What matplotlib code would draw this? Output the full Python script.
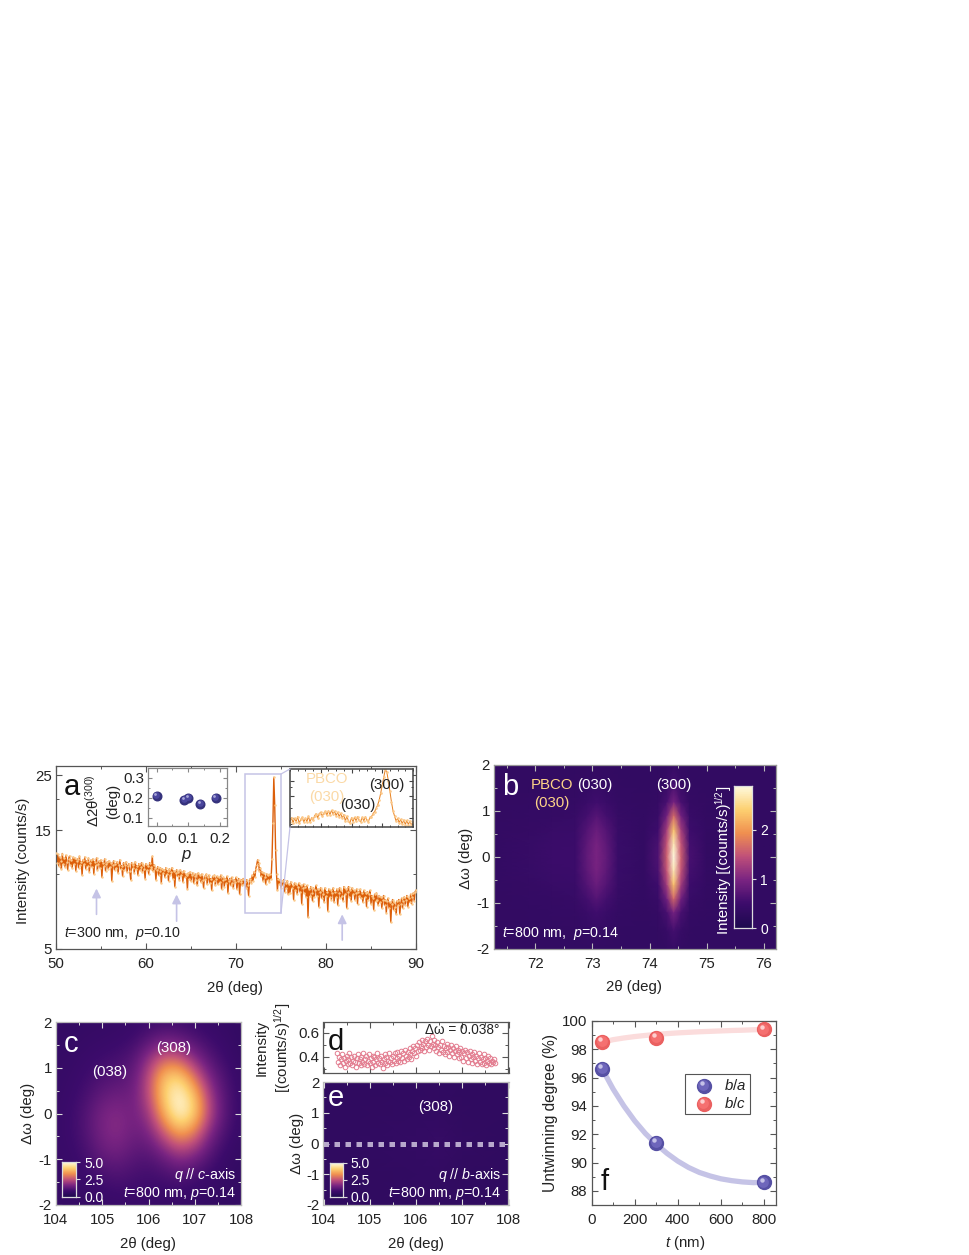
import numpy as np
import matplotlib
matplotlib.use("Agg")
import matplotlib.pyplot as plt
from matplotlib.colors import LinearSegmentedColormap
from matplotlib.patches import Rectangle
from matplotlib.lines import Line2D
from matplotlib.ticker import FixedLocator, FixedFormatter, NullFormatter, MultipleLocator
from matplotlib.transforms import ScaledTranslation

plt.rcParams['font.family'] = ['Liberation Sans', 'DejaVu Sans']
plt.rcParams['mathtext.fontset'] = 'custom'
plt.rcParams['mathtext.rm'] = 'Liberation Sans'
plt.rcParams['mathtext.it'] = 'Liberation Sans:italic'
plt.rcParams['font.size'] = 10.8
plt.rcParams['axes.unicode_minus'] = False

W, H = 970, 1255

# panel a, spectrum every 0.1 deg from 50 to 90, one row per 2 deg
spec_a = [
    12.2, 11.1, 12.0, 10.8, 11.7, 11.3, 10.5, 12.1, 11.0, 11.6, 10.7, 11.9, 11.2, 10.4, 11.5, 11.8, 10.9, 11.4, 10.6, 11.7,
    11.0, 11.6, 10.3, 11.3, 11.5, 10.6, 11.8, 10.9, 11.2, 9.9, 11.4, 11.0, 11.7, 10.5, 11.3, 10.8, 11.6, 10.2, 11.1, 11.4,
    10.7, 11.5, 10.0, 11.2, 10.9, 11.6, 10.4, 11.0, 11.3, 10.6, 11.4, 9.7, 11.1, 10.8, 11.5, 10.3, 11.0, 11.2, 10.5, 11.3,
    10.7, 11.1, 9.4, 10.9, 11.3, 10.4, 11.0, 10.6, 11.2, 10.1, 10.9, 11.4, 10.5, 10.8, 9.8, 11.1, 10.4, 10.9, 11.2, 10.2,
    10.8, 11.0, 10.3, 9.5, 11.1, 10.6, 10.9, 10.1, 11.2, 10.5, 10.8, 9.9, 11.0, 10.4, 10.7, 11.1, 10.2, 10.9, 10.5, 9.6,
    11.0, 10.4, 10.8, 10.0, 11.1, 10.5, 10.7, 11.8, 10.3, 10.9, 10.6, 9.5, 10.4, 10.7, 9.9, 10.3, 10.6, 9.2, 10.5, 10.1,
    10.4, 9.7, 10.6, 10.0, 10.3, 9.4, 10.5, 9.9, 10.2, 10.6, 9.6, 10.3, 8.9, 10.1, 10.4, 9.8, 10.2, 9.5, 10.4, 9.9,
    10.2, 9.3, 10.3, 9.7, 10.0, 9.9, 8.7, 10.1, 9.6, 10.2, 9.4, 9.9, 10.1, 9.2, 9.8, 10.0, 9.5, 9.0, 10.1, 9.6,
    9.9, 9.3, 10.0, 9.5, 8.8, 9.8, 9.6, 10.0, 9.1, 9.7, 9.9, 9.2, 9.6, 8.6, 9.8, 9.4, 9.9, 9.0, 9.6, 9.8,
    9.1, 9.7, 9.3, 9.9, 8.7, 9.5, 9.7, 8.9, 9.6, 9.2, 9.8, 8.4, 9.4, 9.6, 9.0, 9.7, 9.2, 8.8, 9.5, 9.3,
    9.7, 8.7, 9.4, 9.6, 8.3, 9.3, 9.5, 9.0, 9.6, 9.1, 9.3, 8.8, 9.5, 9.0, 8.2, 9.4, 9.6, 9.2, 9.9, 9.4,
    10.2, 9.7, 10.5, 10.9, 11.4, 11.1, 10.3, 10.6, 9.8, 10.2, 9.4, 10.1, 9.7, 9.1, 10.0, 9.5, 9.9, 9.3, 10.0, 9.6,
    11.5, 16.0, 24.5, 19.0, 12.5, 10.0, 8.6, 9.6, 9.1, 9.5, 8.8, 9.4, 9.0, 9.5, 8.5, 9.2, 8.8, 9.4, 8.3, 9.1,
    8.4, 9.3, 8.8, 9.0, 7.9, 9.2, 8.6, 9.1, 8.3, 8.9, 9.2, 8.5, 9.0, 7.6, 8.8, 9.1, 8.4, 8.9, 8.1, 9.0,
    6.7, 8.7, 8.2, 8.9, 8.4, 7.8, 8.8, 8.1, 8.6, 9.0, 8.2, 8.7, 7.4, 8.5, 8.8, 8.0, 8.6, 8.3, 7.7, 8.8,
    8.2, 8.5, 7.1, 8.7, 8.1, 8.6, 7.9, 8.4, 8.8, 7.7, 8.5, 8.1, 8.7, 7.5, 8.4, 8.8, 8.0, 8.6, 8.2, 7.8,
    8.9, 8.3, 8.7, 7.3, 8.5, 8.9, 8.1, 8.6, 7.8, 8.8, 8.3, 8.6, 7.9, 8.4, 8.7, 7.6, 8.5, 8.2, 8.7, 8.0,
    8.4, 7.7, 8.6, 8.1, 8.4, 7.4, 8.5, 7.9, 8.3, 8.6, 7.6, 8.2, 8.0, 7.2, 8.3, 7.8, 8.4, 7.9, 7.5, 8.2,
    7.7, 8.1, 7.3, 7.9, 8.2, 7.5, 7.9, 7.0, 7.8, 8.0, 7.3, 7.7, 6.4, 7.6, 7.9, 7.2, 7.7, 7.4, 6.9, 7.8,
    7.5, 7.9, 6.9, 7.6, 8.0, 7.3, 7.8, 8.1, 7.5, 7.9, 8.2, 7.4, 8.0, 7.7, 8.3, 7.6, 8.1, 8.4, 7.8, 8.5,
    8.6,
]
theta_a = np.arange(len(spec_a)) * 0.1 + 50
ytick_a = [5, 15, 25]
arrow_x = [54.5, 63.4, 81.8]
arrow_tail = [6.89, 6.47, 5.43]
arrow_head = [8.75, 8.28, 6.89]

# zoom of the spectrum, every 0.05 deg from 71 to 75
spec_zoom = [
    9.3, 10.1, 9.2, 10.0, 9.4, 10.3, 9.1, 9.8, 10.2, 9.3,
    10.0, 9.4, 10.4, 9.3, 10.1, 9.6, 10.5, 10.9, 10.1, 10.9,
    11.2, 10.4, 11.0, 11.4, 10.6, 11.5, 10.7, 11.6, 10.8, 11.4,
    10.5, 11.2, 10.3, 11.0, 10.0, 10.7, 9.5, 10.4, 9.5, 9.2,
    10.1, 9.4, 10.2, 9.5, 10.3, 9.6, 9.4, 10.2, 9.5, 10.3,
    9.6, 9.4, 10.2, 10.3, 10.9, 11.3, 12.0, 12.8, 14.0, 16.0,
    18.5, 21.5, 24.8, 23.5, 20.0, 16.5, 13.5, 11.5, 10.4, 9.5,
    10.0, 9.2, 9.8, 9.0, 9.7, 8.9, 9.6, 8.9, 9.5, 8.8,
    9.3,
]
theta_zoom = np.arange(len(spec_zoom)) * 0.05 + 71

# inset of panel a
p_inset = [0.0, 0.087, 0.1, 0.137, 0.186]
dtheta_inset = [0.21, 0.19, 0.20, 0.17, 0.20]

# panel b map
b_x = [71.28, 71.9, 72.3, 72.7, 72.9, 73.07, 73.25, 73.45, 73.9, 74.15, 74.3, 74.42, 74.55, 74.7, 75.0, 76.21]
b_y = [-2, -1.6, -1.2, -0.9, -0.6, -0.3, 0, 0.3, 0.6, 0.9, 1.2, 1.6, 2]
b_map = [
    [.18, .18, .18, .18, .18, .19, .18, .18, .18, .18, .2, .24, .2, .18, .18, .18],
    [.18, .18, .19, .19, .21, .24, .21, .19, .18, .19, .26, .42, .26, .19, .18, .18],
    [.19, .2, .21, .22, .3, .38, .3, .21, .19, .22, .45, .85, .45, .22, .19, .18],
    [.19, .21, .23, .26, .41, .56, .41, .24, .2, .27, .8, 1.6, .8, .27, .19, .18],
    [.2, .23, .27, .3, .54, .73, .54, .27, .2, .36, 1.15, 2.3, 1.15, .34, .2, .18],
    [.2, .25, .31, .32, .62, .83, .62, .29, .2, .46, 1.4, 2.7, 1.4, .42, .2, .18],
    [.2, .26, .33, .33, .65, .86, .65, .3, .2, .5, 1.5, 2.9, 1.5, .45, .2, .18],
    [.2, .25, .31, .32, .62, .83, .62, .29, .2, .46, 1.4, 2.7, 1.4, .42, .2, .18],
    [.2, .23, .27, .3, .54, .73, .54, .27, .2, .36, 1.15, 2.3, 1.15, .34, .2, .18],
    [.19, .21, .23, .26, .41, .56, .41, .24, .2, .27, .8, 1.6, .8, .27, .19, .18],
    [.19, .2, .21, .22, .3, .38, .3, .21, .19, .22, .45, .85, .45, .22, .19, .18],
    [.18, .18, .19, .19, .21, .24, .21, .19, .18, .19, .26, .42, .26, .19, .18, .18],
    [.18, .18, .18, .18, .18, .19, .18, .18, .18, .18, .2, .24, .2, .18, .18, .18],
]

# panel c map, rows from -2 to 2
c_x = [104, 104.33, 104.67, 105, 105.33, 105.67, 106, 106.33, 106.67, 107, 107.33, 107.67, 108]
c_y = [-2, -1.6, -1.2, -0.8, -0.4, 0, 0.4, 0.8, 1.2, 1.6, 2]
c_map = [
    [.45, .45, .45, .5, .55, .55, .55, .5, .5, .45, .4, .4, .4],
    [.5, .5, .55, .65, .75, .7, .65, .65, .7, .6, .5, .4, .4],
    [.5, .55, .7, .95, 1.05, .9, .8, .95, 1.2, 1.0, .7, .5, .4],
    [.55, .6, .85, 1.3, 1.45, 1.15, 1.1, 1.6, 2.2, 1.9, 1.1, .6, .45],
    [.55, .65, 1.0, 1.5, 1.7, 1.35, 1.5, 2.6, 3.7, 3.1, 1.6, .85, .5],
    [.55, .65, 1.0, 1.5, 1.65, 1.4, 1.9, 3.7, 5.0, 4.2, 2.2, 1.0, .55],
    [.5, .6, .85, 1.2, 1.35, 1.35, 2.3, 4.2, 5.0, 4.0, 2.0, .95, .55],
    [.5, .55, .7, .9, 1.0, 1.2, 2.3, 4.0, 4.3, 2.9, 1.5, .85, .5],
    [.45, .5, .6, .7, .8, 1.0, 1.8, 2.7, 2.6, 1.7, 1.0, .65, .45],
    [.45, .45, .5, .55, .6, .7, 1.05, 1.4, 1.25, .95, .7, .55, .4],
    [.4, .4, .45, .45, .5, .55, .65, .7, .7, .6, .5, .45, .4],
]

# panel d, every 0.02 deg from 104.3
d_int = [
    .43, .36, .40, .33, .38, .42, .35, .39, .32, .37, .41, .34, .38, .43, .35, .40, .33, .37, .41, .36,
    .32, .39, .42, .35, .38, .33, .40, .36, .43, .34, .38, .41, .33, .37, .42, .35, .39, .32, .41, .36,
    .40, .33, .38, .43, .35, .39, .34, .41, .36, .31, .38, .42, .35, .40, .33, .37, .43, .36, .39, .34,
    .41, .37, .43, .35, .39, .44, .37, .41, .36, .45, .39, .43, .37, .46, .41, .38, .44, .40, .47, .42,
    .38, .45, .49, .43, .47, .41, .50, .45, .52, .46, .49, .54, .47, .51, .45, .53, .48, .55, .50, .46,
    .53, .49, .57, .51, .47, .54, .50, .45, .52, .48, .43, .50, .46, .53, .44, .49, .42, .47, .51, .44,
    .48, .41, .46, .50, .43, .47, .40, .45, .49, .42, .46, .39, .44, .47, .40, .45, .37, .43, .46, .39,
    .44, .36, .41, .45, .38, .42, .35, .40, .44, .37, .41, .34, .39, .43, .36, .40, .34, .38, .42, .35,
    .39, .33, .37, .41, .35, .39, .34, .37, .36, .38, .35,
]
d_x = np.arange(len(d_int)) * 0.02 + 104.3

# panel e map
e_x = [104, 105, 106, 106.5, 107, 108]
e_y = [-2, -1, 0, 1, 2]
e_map = [
    [.48, .48, .49, .5, .48, .48],
    [.48, .5, .53, .55, .5, .48],
    [.48, .51, .58, .63, .54, .48],
    [.48, .5, .53, .55, .5, .48],
    [.48, .48, .49, .5, .48, .48],
]

# panel f
t_nm = [50, 300, 800]
ba_vals = [96.6, 91.4, 88.6]
bc_vals = [98.5, 98.8, 99.4]
fit_t = [50, 100, 150, 200, 250, 300, 350, 400, 450, 500, 550, 600, 650, 700, 750, 800]
fit_ba = [96.6, 95.2, 94.0, 92.95, 92.05, 91.3, 90.65, 90.1, 89.65, 89.3, 89.05, 88.85, 88.72, 88.63, 88.58, 88.6]
fit_bc = [98.5, 98.68, 98.8, 98.9, 98.98, 99.05, 99.11, 99.16, 99.2, 99.24, 99.27, 99.3, 99.33, 99.35, 99.38, 99.4]

cmap_map = LinearSegmentedColormap.from_list(
    'xrd', ['#1f0a50', '#3d0c6c', '#7a2482', '#c0507a', '#f09050', '#fdd070', '#fffbe0'])

DARK = '#222222'
GREY = '#555555'
LAV = '#c5c3e6'
NOTE = 10.3


def axpx(fig, left, top, right, bottom):
    return fig.add_axes([left / W, 1 - bottom / H, (right - left) / W, (bottom - top) / H])


def tpx(fig, x, y, s, **kw):
    kw.setdefault('ha', 'center')
    kw.setdefault('va', 'center')
    kw.setdefault('color', DARK)
    return fig.text(x / W, 1 - y / H, s, **kw)


def style(ax, color=GREY, tick=DARK, length=4, minor=2.3):
    for s in ax.spines.values():
        s.set_color(color)
        s.set_linewidth(0.9)
    ax.tick_params(which='major', direction='in', top=True, right=True, length=length,
                   width=0.8, color=color, labelcolor=tick, pad=3)
    ax.tick_params(axis='x', which='major', pad=5.5)
    ax.tick_params(which='minor', direction='in', top=True, right=True, length=minor,
                   width=0.7, color=color)


def spheres(ax, x, y, base, edge, shine, ms, transform=None, zorder=5):
    tr = ax.transData if transform is None else transform
    fig = ax.figure
    ax.plot(x, y, ls='', marker='o', ms=ms, mfc=edge, mec=edge, transform=tr, zorder=zorder, clip_on=False)
    off = ScaledTranslation(-ms * 0.05 / 72, ms * 0.06 / 72, fig.dpi_scale_trans)
    ax.plot(x, y, ls='', marker='o', ms=ms * 0.78, mfc=base, mec='none', transform=tr + off, zorder=zorder, clip_on=False)
    off2 = ScaledTranslation(-ms * 0.14 / 72, ms * 0.2 / 72, fig.dpi_scale_trans)
    ax.plot(x, y, ls='', marker='o', ms=ms * 0.32, mfc=shine, mec='none', alpha=0.85, transform=tr + off2, zorder=zorder, clip_on=False)


def cbar(fig, left, top, right, bottom, vmax, ticks, labels, size=10, color='#dddddd', pad=2.5):
    cax = axpx(fig, left, top, right, bottom)
    levels = np.linspace(0, 1, 64).reshape(-1, 1)
    cax.imshow(levels, origin='lower', aspect='auto', cmap=cmap_map, extent=[0, 1, 0, vmax])
    cax.set_xticks([])
    cax.yaxis.tick_right()
    cax.set_yticks(ticks)
    cax.set_yticklabels(labels)
    cax.tick_params(axis='y', direction='out', length=3, width=0.8, color=color, labelcolor='white',
                    labelsize=size, pad=pad)
    for s in cax.spines.values():
        s.set_color(color)
        s.set_linewidth(0.9)
    return cax


def edges(vals):
    step = vals[1] - vals[0]
    return [vals[0] - step / 2, vals[-1] + step / 2]


fig = plt.figure(figsize=(W / 100, H / 100), dpi=100, facecolor='white')

# a
ax_a = axpx(fig, 56, 766, 416, 949)
ax_a.set_yscale('log')
ax_a.plot(theta_a, spec_a, color='#dc5f0a', lw=1.0, zorder=2)
ax_a.plot(theta_a, spec_a, ls='', marker='.', ms=1.5, color='#fcc98a', zorder=3)
ax_a.set_xlim(50, 90)
ax_a.set_ylim(5, 27.2)
ax_a.yaxis.set_major_locator(FixedLocator(ytick_a))
ax_a.yaxis.set_major_formatter(FixedFormatter([str(v) for v in ytick_a]))
ax_a.yaxis.set_minor_locator(FixedLocator([10, 20]))
ax_a.yaxis.set_minor_formatter(NullFormatter())
ax_a.xaxis.set_major_locator(MultipleLocator(10))
ax_a.xaxis.set_minor_locator(MultipleLocator(5))
style(ax_a)
for x0, y0, y1 in zip(arrow_x, arrow_tail, arrow_head):
    ax_a.annotate('', xy=(x0, y1), xytext=(x0, y0),
                  arrowprops=dict(arrowstyle='-|>', color=LAV, lw=1.2, mutation_scale=13, shrinkA=0, shrinkB=0))
ax_a.add_patch(Rectangle((71, 6.95), 4, 25.2 - 6.95, fill=False, ec=LAV, lw=1.1, zorder=4))
fig.add_artist(Line2D([281 / W, 290 / W], [1 - 774 / H, 1 - 769 / H], color=LAV, lw=0.9))
fig.add_artist(Line2D([281 / W, 290 / W], [1 - 913 / H, 1 - 827 / H], color=LAV, lw=0.9))

ax_in = axpx(fig, 148, 768, 227, 826)
spheres(ax_in, p_inset, dtheta_inset, '#4a469e', '#35327c', '#b9b7e2', 6.2)
ax_in.set_xlim(-0.027, 0.222)
ax_in.set_ylim(0.058, 0.349)
ax_in.set_xticks([0, 0.1, 0.2])
ax_in.set_xticklabels(['0.0', '0.1', '0.2'])
ax_in.set_yticks([0.1, 0.2, 0.3])
ax_in.set_yticklabels(['0.1', '0.2', '0.3'])
ax_in.xaxis.set_minor_locator(MultipleLocator(0.05))
ax_in.yaxis.set_minor_locator(MultipleLocator(0.05))
style(ax_in, color='#888888', length=3, minor=1.6)
ax_in.tick_params(axis='x', which='major', pad=4.2)

ax_z = axpx(fig, 290, 769, 413, 827)
ax_z.set_yscale('log')
ax_z.plot(theta_zoom, spec_zoom, color='#e8811f', lw=0.7)
ax_z.plot(theta_zoom, spec_zoom, ls='', marker='.', ms=1.8, color='#fcc98a')
ax_z.set_xlim(71, 75)
ax_z.set_ylim(8.5, 25)
ax_z.set_xticks([72, 73, 74])
ax_z.set_xticklabels([])
ax_z.xaxis.set_minor_locator(MultipleLocator(0.25))
ax_z.yaxis.set_major_locator(FixedLocator([10, 15, 20]))
ax_z.yaxis.set_minor_locator(FixedLocator([9, 12, 18]))
ax_z.yaxis.set_major_formatter(NullFormatter())
ax_z.yaxis.set_minor_formatter(NullFormatter())
style(ax_z, color='#444444', length=3, minor=1.6)
for s in ax_z.spines.values():
    s.set_linewidth(1.1)

tpx(fig, 72, 787, 'a', fontsize=21, color='#111111')
tpx(fig, 64, 934, r'$\mathit{t}$=300 nm,  $\mathit{p}$=0.10', ha='left', fontsize=NOTE)
tpx(fig, 93, 801, 'Δ2θ$^{(300)}$', rotation=90)
tpx(fig, 113, 801, '(deg)', rotation=90)
tpx(fig, 187, 856, r'$\mathit{p}$', fontsize=12)
tpx(fig, 327, 779, 'PBCO', color='#fbd9a6')
tpx(fig, 327, 797, '(030)', color='#fbd9a6')
tpx(fig, 358, 805, '(030)')
tpx(fig, 387, 785, '(300)')
tpx(fig, 235, 988, '2θ (deg)')
tpx(fig, 23, 861, 'Intensity (counts/s)', rotation=90)

# b
ax_b = axpx(fig, 494, 765, 776, 949)
ax_b.pcolormesh(b_x, b_y, b_map, cmap=cmap_map, vmin=-0.15, vmax=2.9, shading='gouraud')
ax_b.set_xlim(71.28, 76.21)
ax_b.set_ylim(-2, 2)
ax_b.set_xticks([72, 73, 74, 75, 76])
ax_b.xaxis.set_minor_locator(MultipleLocator(0.5))
ax_b.yaxis.set_minor_locator(MultipleLocator(0.5))
style(ax_b, color='#999999')
ax_b.tick_params(axis='both', which='both', color='#bbbbbb')
cbar(fig, 734.5, 785.7, 752.5, 928.3, 2.9, [0, 1, 2], ['0', '1', '2'])
tpx(fig, 510, 787, 'b', fontsize=21, color='white')
tpx(fig, 552, 785, 'PBCO', color='#fdd488')
tpx(fig, 552, 803, '(030)', color='#fdd488')
tpx(fig, 595, 785, '(030)', color='white')
tpx(fig, 674, 785, '(300)', color='white')
tpx(fig, 502, 934, r'$\mathit{t}$=800 nm,  $\mathit{p}$=0.14', ha='left', color='white', fontsize=NOTE)
tpx(fig, 724, 869, 'Intensity [(counts/s)', rotation=90, color='white')
tpx(fig, 719, 797, '1/2', rotation=90, color='white', fontsize=7)
tpx(fig, 724, 788, ']', rotation=90, color='white')
tpx(fig, 634, 987, '2θ (deg)')
tpx(fig, 466, 858, 'Δω (deg)', rotation=90)

# c
ax_c = axpx(fig, 56, 1022, 241, 1205)
ax_c.imshow(c_map, origin='lower', aspect='auto', cmap=cmap_map, vmin=-0.2, vmax=5, interpolation='bicubic',
            extent=edges(c_x) + edges(c_y))
ax_c.set_xlim(104, 108)
ax_c.set_ylim(-2, 2)
ax_c.set_xticks([104, 105, 106, 107, 108])
ax_c.set_yticks([-2, -1, 0, 1, 2])
ax_c.xaxis.set_minor_locator(MultipleLocator(0.5))
ax_c.yaxis.set_minor_locator(MultipleLocator(0.5))
style(ax_c, color='#bbbbbb')
ax_c.tick_params(axis='both', which='both', color='#dddddd')
cbar(fig, 62, 1162, 76.5, 1196.5, 5, [0, 2.5, 5], ['0.0', '2.5', '5.0'])
tpx(fig, 71, 1044, 'c', fontsize=21, color='white')
tpx(fig, 174, 1048, '(308)', color='white')
tpx(fig, 110, 1072, '(038)', color='white')
tpx(fig, 236, 1175, r'$\mathit{q}$ // $\mathit{c}$-axis', ha='right', color='white', fontsize=NOTE)
tpx(fig, 236, 1193, r'$\mathit{t}$=800 nm, $\mathit{p}$=0.14', ha='right', color='white', fontsize=NOTE)
tpx(fig, 148, 1244, '2θ (deg)')
tpx(fig, 28, 1113, 'Δω (deg)', rotation=90)

# d
ax_d = axpx(fig, 323.5, 1022, 508.5, 1073)
ax_d.plot(d_x, d_int, ls='', marker='o', ms=3.3, mfc='none', mec='#e37d90', mew=0.7)
ax_d.set_xlim(104, 108)
ax_d.set_ylim(0.268, 0.687)
ax_d.set_xticks([104, 105, 106, 107, 108])
ax_d.set_xticklabels([])
ax_d.set_yticks([0.4, 0.6])
ax_d.set_yticklabels(['0.4', '0.6'])
ax_d.xaxis.set_minor_locator(MultipleLocator(0.5))
ax_d.yaxis.set_minor_locator(MultipleLocator(0.1))
style(ax_d, color=GREY)
tpx(fig, 336, 1042, 'd', fontsize=21, color='#111111')
tpx(fig, 462, 1030, 'Δω = 0.038°', fontsize=9.8)
tpx(fig, 262, 1048, 'Intensity', rotation=90)
tpx(fig, 283, 1048, '[(counts/s)$^{1/2}$]', rotation=90)

# e
ax_e = axpx(fig, 323.5, 1082, 508.5, 1205)
ax_e.pcolormesh(e_x, e_y, e_map, cmap=cmap_map, vmin=0, vmax=5, shading='gouraud')
ax_e.axhline(0, color='#b8a8cc', lw=3.6, ls=(0, (1.1, 1.1)))
ax_e.set_xlim(104, 108)
ax_e.set_ylim(-2, 2)
ax_e.set_xticks([104, 105, 106, 107, 108])
ax_e.set_yticks([-2, -1, 0, 1, 2])
ax_e.xaxis.set_minor_locator(MultipleLocator(0.5))
ax_e.yaxis.set_minor_locator(MultipleLocator(0.5))
style(ax_e, color='#bbbbbb')
ax_e.tick_params(axis='both', which='both', color='#dddddd')
cbar(fig, 329.5, 1162.5, 342.5, 1196.5, 5, [0, 2.5, 5], ['0.0', '2.5', '5.0'])
tpx(fig, 336, 1098, 'e', fontsize=21, color='white')
tpx(fig, 436, 1107, '(308)', color='white')
tpx(fig, 501, 1175, r'$\mathit{q}$ // $\mathit{b}$-axis', ha='right', color='white', fontsize=NOTE)
tpx(fig, 501, 1193, r'$\mathit{t}$=800 nm, $\mathit{p}$=0.14', ha='right', color='white', fontsize=NOTE)
tpx(fig, 416, 1244, '2θ (deg)')
tpx(fig, 297, 1143, 'Δω (deg)', rotation=90)

# f
ax_f = axpx(fig, 591.5, 1021, 775.5, 1205)
ax_f.plot(fit_t, fit_ba, color=LAV, lw=3.8, solid_capstyle='round', zorder=2)
ax_f.plot(fit_t, fit_bc, color='#fbdcdc', lw=3.8, solid_capstyle='round', zorder=2)
spheres(ax_f, t_nm, ba_vals, '#6e66bb', '#5650a4', '#d5d3f0', 10)
spheres(ax_f, t_nm, bc_vals, '#f57070', '#ea6060', '#ffe0e0', 10)
ax_f.set_xlim(0, 853)
ax_f.set_ylim(87, 100)
ax_f.set_xticks([0, 200, 400, 600, 800])
ax_f.set_yticks([88, 90, 92, 94, 96, 98, 100])
ax_f.xaxis.set_minor_locator(MultipleLocator(100))
ax_f.yaxis.set_minor_locator(MultipleLocator(1))
style(ax_f)
fig.add_artist(Rectangle((685 / W, 1 - 1114.3 / H), 64.5 / W, 40.3 / H, transform=fig.transFigure,
                         fill=False, ec='#555555', lw=0.8, zorder=6))
spheres(ax_f, [704 / W], [1 - 1086 / H], '#6e66bb', '#5650a4', '#d5d3f0', 10, transform=fig.transFigure, zorder=7)
spheres(ax_f, [704 / W], [1 - 1104 / H], '#f57070', '#ea6060', '#ffe0e0', 10, transform=fig.transFigure, zorder=7)
tpx(fig, 735, 1086, r'$\mathit{b/a}$')
tpx(fig, 735, 1104, r'$\mathit{b/c}$')
tpx(fig, 605, 1182, 'f', fontsize=21, color='#111111')
tpx(fig, 685, 1243, r'$\mathit{t}$ (nm)')
tpx(fig, 551, 1113, 'Untwinning degree (%)', rotation=90, fontsize=11.2)

fig.savefig('out.png', dpi=100)
